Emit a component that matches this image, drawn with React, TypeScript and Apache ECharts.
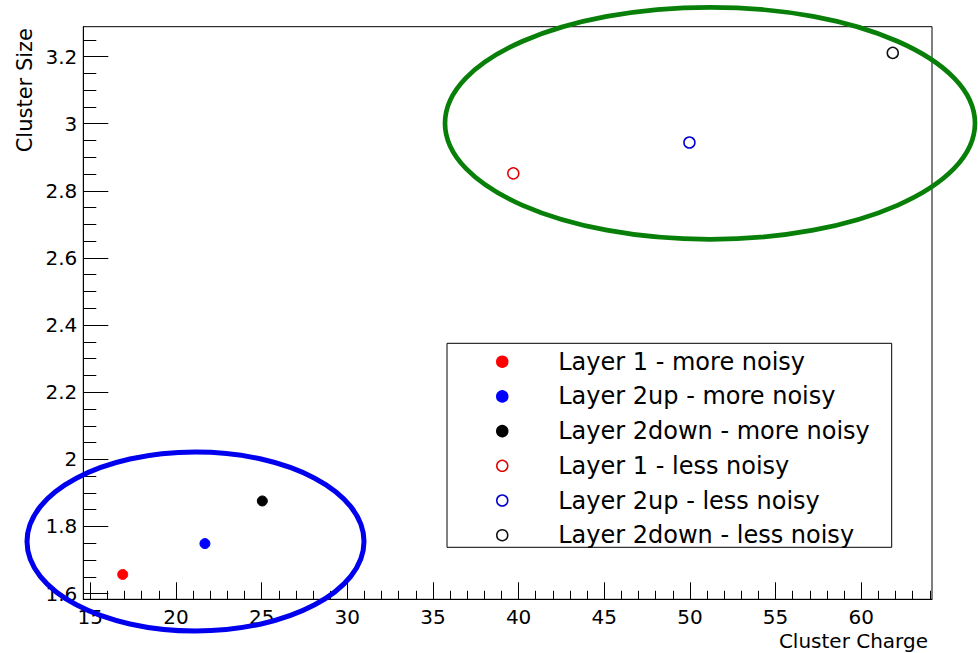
import React, { useEffect, useRef } from "react";
import * as echarts from "echarts";

// ---- data ----
const seriesNames = [
  "Layer 1 - more noisy",
  "Layer 2up - more noisy",
  "Layer 2down - more noisy",
  "Layer 1 - less noisy",
  "Layer 2up - less noisy",
  "Layer 2down - less noisy",
];
const seriesColors = ["#ff0000", "#0000ff", "#000000", "#e00000", "#0000d0", "#111111"];
const seriesFilled = [true, true, true, false, false, false];
const clusterCharge = [16.89, 21.69, 25.04, 39.69, 49.97, 61.84];
const clusterSize = [1.657, 1.749, 1.876, 2.852, 2.944, 3.211];

const xMajorTicks = [15, 20, 25, 30, 35, 40, 45, 50, 55, 60];
const xMinorTicks = [
  15, 16, 17, 18, 19, 20, 21, 22, 23, 24, 25, 26, 27, 28, 29, 30, 31, 32, 33, 34, 35, 36, 37, 38, 39,
  40, 41, 42, 43, 44, 45, 46, 47, 48, 49, 50, 51, 52, 53, 54, 55, 56, 57, 58, 59, 60, 61, 62, 63, 64,
];
const yMajorTicks = [1.6, 1.8, 2, 2.2, 2.4, 2.6, 2.8, 3, 3.2];
const yMinorTicks = [
  1.6, 1.65, 1.7, 1.75, 1.8, 1.85, 1.9, 1.95, 2, 2.05, 2.1, 2.15, 2.2, 2.25, 2.3, 2.35, 2.4, 2.45,
  2.5, 2.55, 2.6, 2.65, 2.7, 2.75, 2.8, 2.85, 2.9, 2.95, 3, 3.05, 3.1, 3.15, 3.2, 3.25,
];
const xRange = [14.59, 64.13];
const yRange = [1.583, 3.289];
const xTitle = "Cluster Charge";
const yTitle = "Cluster Size";

const FONT = "DejaVu Sans";

export default function App() {
  const ref = useRef<HTMLDivElement>(null);
  useEffect(() => {
    if (!ref.current) return;
    const chart = echarts.init(ref.current, undefined, { renderer: "svg" });

    const series = seriesNames.map((name, i) => ({
      name,
      type: "scatter",
      xAxisIndex: 0,
      yAxisIndex: 0,
      symbol: "circle",
      symbolSize: seriesFilled[i] ? 10 : 11,
      itemStyle: seriesFilled[i]
        ? { color: seriesColors[i], borderColor: seriesColors[i], borderWidth: 1, opacity: 1 }
        : { color: "#ffffff", borderColor: seriesColors[i], borderWidth: 1.5, opacity: 1 },
      emphasis: { disabled: true },
      data: [[clusterCharge[i], clusterSize[i]]],
      z: 5,
    }));

    const axisText = { color: "#000", fontFamily: FONT, fontSize: 20 };

    chart.setOption({
      animation: false,
      backgroundColor: "#ffffff",
      grid: {
        left: 83.3,
        right: 46,
        top: 26.7,
        bottom: 53.7,
        show: true,
        borderColor: "#000",
        borderWidth: 1,
        backgroundColor: "transparent",
      },
      xAxis: [
        {
          type: "value",
          position: "bottom",
          min: xRange[0],
          max: xRange[1],
          splitLine: { show: false },
          axisLine: { show: true, lineStyle: { color: "#000", width: 1 } },
          axisTick: {
            show: true,
            inside: true,
            length: 17,
            customValues: xMajorTicks,
            lineStyle: { color: "#000", width: 1 },
          },
          axisLabel: {
            show: true,
            customValues: xMajorTicks,
            margin: 8,
            formatter: (v: number) => String(v),
            ...axisText,
          },
        },
        {
          type: "value",
          position: "bottom",
          offset: 0,
          min: xRange[0],
          max: xRange[1],
          splitLine: { show: false },
          axisLine: { show: false },
          axisLabel: { show: false },
          axisTick: {
            show: true,
            inside: true,
            length: 8.5,
            customValues: xMinorTicks,
            lineStyle: { color: "#000", width: 1 },
          },
        },
      ],
      yAxis: [
        {
          type: "value",
          position: "left",
          min: yRange[0],
          max: yRange[1],
          splitLine: { show: false },
          axisLine: { show: true, lineStyle: { color: "#000", width: 1 } },
          axisTick: {
            show: true,
            inside: true,
            length: 25,
            customValues: yMajorTicks,
            lineStyle: { color: "#000", width: 1 },
          },
          axisLabel: {
            show: true,
            customValues: yMajorTicks,
            margin: 6,
            formatter: (v: number) => String(v),
            ...axisText,
          },
        },
        {
          type: "value",
          position: "left",
          offset: 0,
          min: yRange[0],
          max: yRange[1],
          splitLine: { show: false },
          axisLine: { show: false },
          axisLabel: { show: false },
          axisTick: {
            show: true,
            inside: true,
            length: 13,
            customValues: yMinorTicks,
            lineStyle: { color: "#000", width: 1 },
          },
        },
      ],
      legend: {
        show: true,
        orient: "vertical",
        left: 447,
        top: 343.3,
        padding: [6.4, 4, 0, 49],
        itemWidth: 102,
        itemHeight: 11,
        itemGap: 10.7,
        z: 10,
        selectedMode: false,
        icon: "circle",
        itemStyle: { borderWidth: 1.5 },
        textStyle: { color: "#000", fontFamily: FONT, fontSize: 24, lineHeight: 24 },
        data: seriesNames,
      },
      graphic: [
        {
          type: "rect",
          z: 3,
          shape: { x: 447, y: 343.3, width: 444.7, height: 204 },
          style: { fill: "#ffffff", stroke: "#000", lineWidth: 1 },
        },
        {
          type: "text",
          z: 10,
          x: 928,
          y: 641,
          style: {
            text: xTitle,
            fill: "#000",
            font: `20px "${FONT}"`,
            align: "right",
            verticalAlign: "middle",
          },
        },
        {
          type: "text",
          z: 10,
          x: 25,
          y: 28,
          rotation: Math.PI / 2,
          style: {
            text: yTitle,
            fill: "#000",
            font: `21px "${FONT}"`,
            align: "right",
            verticalAlign: "middle",
          },
        },
        {
          type: "ellipse",
          z: 100,
          shape: { cx: 195.5, cy: 541.5, rx: 168.5, ry: 89.5 },
          style: { fill: "none", stroke: "#0000ee", lineWidth: 5 },
        },
        {
          type: "ellipse",
          z: 100,
          shape: { cx: 710, cy: 123.3, rx: 265, ry: 116 },
          style: { fill: "none", stroke: "#087f08", lineWidth: 4.7 },
        },
      ],
      series,
    });

    return () => chart.dispose();
  }, []);

  return (
    <div
      ref={ref}
      style={{ position: "absolute", left: 0, top: 0, width: 978, height: 653, background: "#fff" }}
    />
  );
}
